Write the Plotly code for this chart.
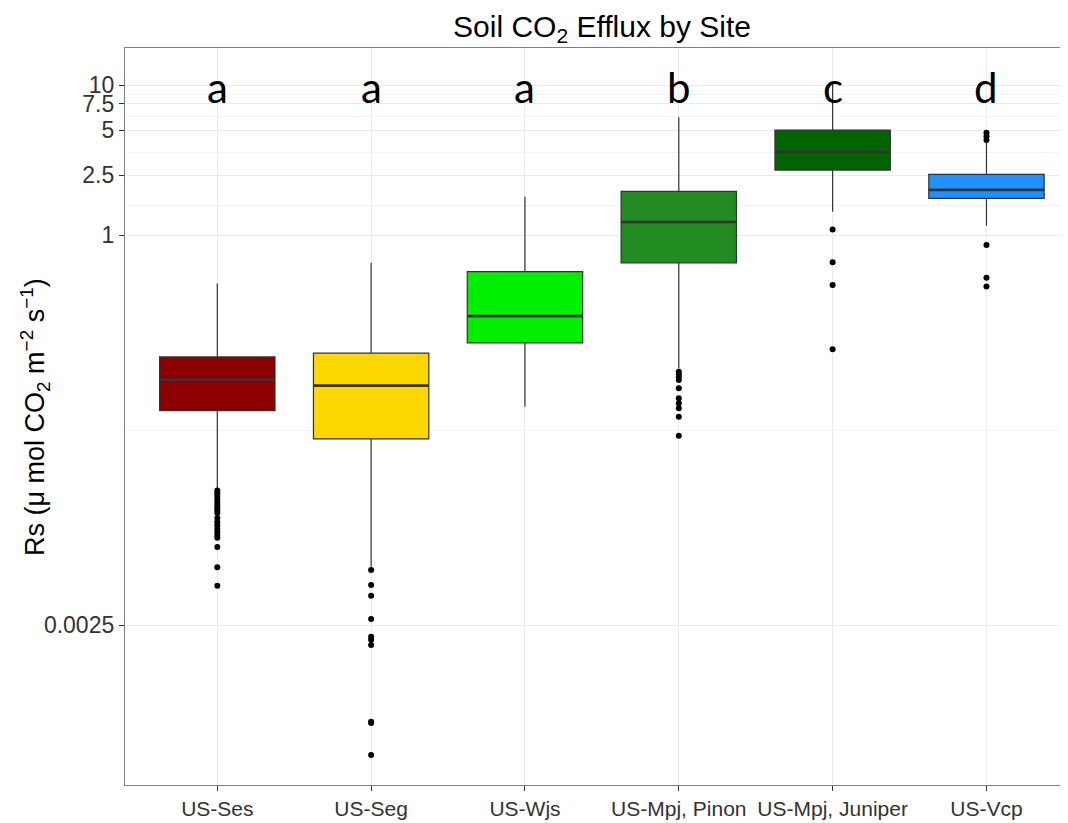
import plotly.graph_objects as go

sites = ["US-Ses", "US-Seg", "US-Wjs", "US-Mpj, Pinon", "US-Mpj, Juniper", "US-Vcp"]
colors = ["#8B0000", "#FFD700", "#00EE00", "#228B22", "#006400", "#1E90FF"]
letters = ["a", "a", "a", "b", "c", "d"]

lower_whisker = [0.0200, 0.00615, 0.0717, 0.129, 1.43, 1.153]
q1 = [0.0674, 0.0437, 0.191, 0.651, 2.71, 1.756]
median = [0.1086, 0.099, 0.288, 1.221, 3.57, 2.0]
q3 = [0.154, 0.163, 0.570, 1.955, 5.01, 2.54]
upper_whisker = [0.476, 0.654, 1.80, 6.09, 10.4, 4.24]

outliers = [
    [0.0198, 0.0190, 0.0182, 0.0174, 0.0166, 0.0159, 0.0152, 0.0146, 0.0140,
     0.0130, 0.0122, 0.0116, 0.0110, 0.0105, 0.0100, 0.0096, 0.0083, 0.0061, 0.00459],
    [0.00585, 0.00464, 0.00394, 0.00275, 0.0021, 0.0020, 0.00185, 0.000569, 0.000558, 0.000341],
    [],
    [0.1227, 0.1184, 0.113, 0.108, 0.0951, 0.0815, 0.0755, 0.0700, 0.0615, 0.0459],
    [1.09, 0.658, 0.464, 0.173],
    [4.81, 4.55, 4.30, 0.858, 0.519, 0.453],
]

ytick_vals = [0.0025, 1, 2.5, 5, 7.5, 10]
ytick_text = ["0.0025", "1", "2.5", "5", "7.5", "10"]
yminor_vals = [0.05, 1.581, 3.536, 6.124, 8.66]

box_width = 0.75

fig = go.Figure()
for i, s in enumerate(sites):
    fig.add_trace(go.Box(
        x=[i], q1=[q1[i]], median=[median[i]], q3=[q3[i]],
        lowerfence=[lower_whisker[i]], upperfence=[upper_whisker[i]],
        width=box_width, whiskerwidth=0, fillcolor=colors[i],
        line=dict(color="#333333", width=1.2), boxpoints=False,
        name=s, showlegend=False, hoverinfo="skip",
    ))
    fig.add_trace(go.Scatter(
        x=[i - box_width / 2, i + box_width / 2], y=[median[i], median[i]],
        mode="lines", line=dict(color="#333333", width=2.6),
        showlegend=False, hoverinfo="skip",
    ))
    if outliers[i]:
        fig.add_trace(go.Scatter(
            x=[i] * len(outliers[i]), y=outliers[i], mode="markers",
            marker=dict(color="black", size=6), showlegend=False, hoverinfo="skip",
        ))
    fig.add_annotation(
        x=i, y=0.985, xref="x", yref="y", text=letters[i], showarrow=False,
        font=dict(family="Lato", size=42, color="black"), yanchor="middle",
    )

fig.add_annotation(
    xref="paper", yref="paper", x=-0.096, y=0.5, textangle=-90,
    text="Rs (μ mol CO<sub>2</sub> m<sup>−2</sup> s<sup>−1</sup>)",
    showarrow=False, font=dict(family="Liberation Sans", size=27, color="black"),
    xanchor="center", yanchor="middle",
)

fig.update_layout(
    width=1060, height=815,
    margin=dict(l=117, r=0, t=40, b=38),
    paper_bgcolor="white", plot_bgcolor="white",
    title=dict(text="Soil CO<sub>2</sub> Efflux by Site", x=594 / 1060, xref="container",
               xanchor="center", y=1 - 18 / 815, yref="container", yanchor="middle",
               font=dict(family="Liberation Sans", size=30, color="black")),
    xaxis=dict(
        range=[-0.6, 5.53], tickmode="array", tickvals=list(range(len(sites))), ticktext=sites,
        showgrid=True, gridcolor="#ebebeb", gridwidth=1.1, zeroline=False,
        showline=True, linecolor="#7f7f7f", linewidth=1.3, mirror=True,
        ticks="outside", ticklen=5, tickcolor="#333333",
        tickfont=dict(family="Liberation Sans", size=21, color="#333333"),
    ),
    yaxis=dict(
        type="log", range=[-3.667, 1.247], tickmode="array", tickvals=ytick_vals, ticktext=ytick_text,
        showgrid=True, gridcolor="#ebebeb", gridwidth=1.1, zeroline=False,
        showline=True, linecolor="#7f7f7f", linewidth=1.3, mirror=False,
        ticks="outside", ticklen=5, tickcolor="#333333",
        tickfont=dict(family="Liberation Sans", size=23, color="#333333"),
        minor=dict(tickmode="array", tickvals=yminor_vals, showgrid=True,
                   gridcolor="#f4f4f4", gridwidth=0.6, ticks=""),
    ),
)

fig.write_html("out.html")
